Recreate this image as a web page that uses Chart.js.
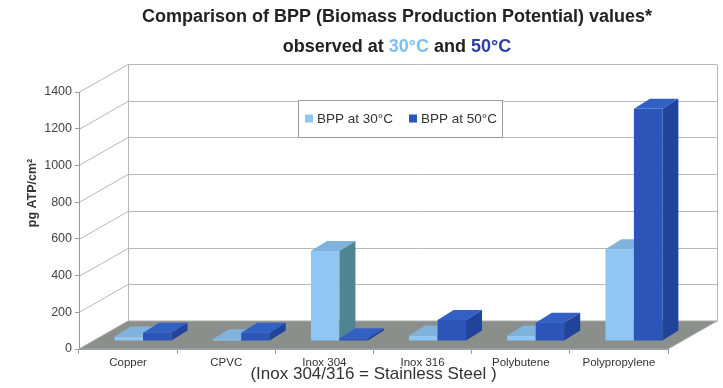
<!DOCTYPE html>
<html>
<head>
<meta charset="utf-8">
<script src="https://cdn.jsdelivr.net/npm/chart.js@4"></script>
<style>
  body { margin: 0; background: #fff; }
  #wrap { width: 723px; height: 388px; position: relative; }
</style>
</head>
<body>
<div id="wrap"><canvas id="myChart"></canvas></div>
<script>
// valores (pg ATP/cm2)
const materiales = ["Copper", "CPVC", "Inox 304", "Inox 316", "Polybutene", "Polypropylene"]
const bpp30 = [25, 10, 490, 30, 30, 500]
const bpp50 = [45, 45, 15, 115, 100, 1265]
const serieLabels = ["BPP at 30°C", "BPP at 50°C"]
const yTicks = [0, 200, 400, 600, 800, 1000, 1200, 1400]

const titulo1 = "Comparison of BPP (Biomass Production Potential) values*"
const titulo2 = [["observed at ", "#222"], ["30°C", "#7cc0f0"], [" and ", "#222"], ["50°C", "#2b3fa6"]]

// colores de las caras de las barras: frente, arriba, lado
const caras = [
    { front: "#8fc6f4", top: "#7fb2dc", side: "#4f8593" },
    { front: "#2b55b8", top: "#3260c4", side: "#20439c" }
]

// profundidad del piso / pared y de las barras
const FD = { dx: 49, dy: -28 }
const BD = { dx: 16, dy: -10 }
const BS = { dx: 15, dy: -8 }
const FONT = "'Liberation Sans', Arial, sans-serif"

const plugin3d = {
    id: "falso3d",
    beforeDraw (chart) {
        const ctx = chart.ctx
        const a = chart.chartArea
        const y = chart.scales.y
        ctx.save()
        ctx.fillStyle = "#fff"
        ctx.fillRect(0, 0, chart.width, chart.height)
        ctx.strokeStyle = "#b8b8b8"
        ctx.lineWidth = 1
        // lineas de la pared de atras y diagonales de la pared izquierda
        y.ticks.forEach((t) => {
            const py = Math.round(y.getPixelForValue(t.value)) + 0.5
            if (t.value === 0) return
            ctx.beginPath()
            ctx.moveTo(a.left, py)
            ctx.lineTo(a.left + FD.dx, py + FD.dy)
            ctx.lineTo(a.right + FD.dx, py + FD.dy)
            ctx.stroke()
        })
        const yTop = Math.round(y.getPixelForValue(1400)) + 0.5 + FD.dy
        const yBot = Math.round(y.getPixelForValue(0)) + 0.5 + FD.dy
        ctx.beginPath()
        ctx.moveTo(a.left + FD.dx + 0.5, yTop)
        ctx.lineTo(a.left + FD.dx + 0.5, yBot)
        ctx.moveTo(a.right + FD.dx + 0.5, yTop)
        ctx.lineTo(a.right + FD.dx + 0.5, yBot)
        ctx.stroke()
        // piso gris
        const b = y.getPixelForValue(0)
        ctx.fillStyle = "#8b8f8c"
        ctx.beginPath()
        ctx.moveTo(a.left, b)
        ctx.lineTo(a.right, b)
        ctx.lineTo(a.right + FD.dx, b + FD.dy)
        ctx.lineTo(a.left + FD.dx, b + FD.dy)
        ctx.closePath()
        ctx.fill()
        ctx.strokeStyle = "#a9aba9"
        ctx.stroke()
        ctx.restore()
    },
    beforeDatasetsDraw (chart) {
        const ctx = chart.ctx
        const metas = chart.data.datasets.map((d, i) => chart.getDatasetMeta(i))
        ctx.save()
        materiales.forEach((m, j) => {
            metas.forEach((meta, i) => {
                const bar = meta.data[j]
                const p = bar.getProps(["x", "y", "base", "width"], true)
                const L = p.x - p.width / 2 + BS.dx
                const R = p.x + p.width / 2 + BS.dx
                const T = p.y + BS.dy
                const B = p.base + BS.dy
                const c = caras[i]
                ctx.fillStyle = c.front
                ctx.fillRect(L, T, R - L, B - T)
                ctx.fillStyle = c.top
                ctx.beginPath()
                ctx.moveTo(L, T)
                ctx.lineTo(R, T)
                ctx.lineTo(R + BD.dx, T + BD.dy)
                ctx.lineTo(L + BD.dx, T + BD.dy)
                ctx.closePath()
                ctx.fill()
                ctx.fillStyle = c.side
                ctx.beginPath()
                ctx.moveTo(R, T)
                ctx.lineTo(R + BD.dx, T + BD.dy)
                ctx.lineTo(R + BD.dx, B + BD.dy)
                ctx.lineTo(R, B)
                ctx.closePath()
                ctx.fill()
            })
        })
        ctx.restore()
        return false
    },
    afterDraw (chart) {
        const ctx = chart.ctx
        const a = chart.chartArea
        ctx.save()
        // titulo en dos lineas, con colores
        ctx.textBaseline = "middle"
        ctx.fillStyle = "#222"
        ctx.font = "bold 18px " + FONT
        const cx = 397
        ctx.textAlign = "center"
        ctx.fillText(titulo1, cx, 17)
        ctx.textAlign = "left"
        const w2 = titulo2.reduce((s, t) => s + ctx.measureText(t[0]).width, 0)
        let x = cx - w2 / 2
        titulo2.forEach((t) => {
            ctx.fillStyle = t[1]
            ctx.fillText(t[0], x, 47)
            x += ctx.measureText(t[0]).width
        })
        // titulo del eje y
        ctx.save()
        ctx.translate(33, 193)
        ctx.rotate(-Math.PI / 2)
        ctx.textAlign = "center"
        ctx.fillStyle = "#333"
        ctx.font = "bold 12.5px " + FONT
        ctx.fillText("pg ATP/cm²", 0, 0)
        ctx.restore()
        // leyenda
        const lx = a.left + 219, ly = a.top + 8, lw = 204, lh = 37
        ctx.fillStyle = "#fff"
        ctx.fillRect(lx, ly, lw, lh)
        ctx.strokeStyle = "#9a9a9a"
        ctx.strokeRect(lx + 0.5, ly + 0.5, lw, lh)
        ctx.font = "13.5px " + FONT
        ctx.textAlign = "left"
        let ix = lx + 7
        chart.data.datasets.forEach((d, i) => {
            ctx.fillStyle = caras[i].front
            ctx.fillRect(ix, ly + lh / 2 - 4, 8, 8)
            ctx.fillStyle = "#333"
            ctx.fillText(d.label, ix + 12, ly + lh / 2 + 1)
            ix += 104
        })
        ctx.restore()
    }
}

function renderGrafica () {
    const data = {
        labels: materiales,
        datasets: [
            { label: serieLabels[0], data: bpp30, backgroundColor: caras[0].front },
            { label: serieLabels[1], data: bpp50, backgroundColor: caras[1].front }
        ]
    }
    const config = {
        type: "bar",
        data,
        plugins: [plugin3d],
        options: {
            responsive: true,
            maintainAspectRatio: false,
            animation: false,
            layout: { padding: { top: 92, right: 55, left: 0, bottom: 0 } },
            datasets: { bar: { categoryPercentage: 0.58, barPercentage: 1.0 } },
            plugins: { legend: { display: false }, title: { display: false }, tooltip: { enabled: false } },
            scales: {
                x: {
                    afterFit: (s) => { s.height = 39 },
                    grid: { drawOnChartArea: false, drawTicks: true, tickLength: 5, color: "#9a9a9a" },
                    border: { color: "#a0a0a0" },
                    ticks: { font: { family: FONT, size: 11.5 }, color: "#333", padding: 2, maxRotation: 0 },
                    title: {
                        display: true,
                        text: "(Inox 304/316 = Stainless Steel )",
                        font: { family: FONT, size: 17 },
                        color: "#333",
                        padding: { top: 0, bottom: 3 }
                    }
                },
                y: {
                    min: 0,
                    max: 1400,
                    afterFit: (s) => { s.width = 79 },
                    afterBuildTicks: (s) => { s.ticks = yTicks.map((v) => ({ value: v })) },
                    grid: { drawOnChartArea: false, drawTicks: true, tickLength: 4, color: "#9a9a9a" },
                    border: { color: "#9a9a9a" },
                    ticks: { font: { family: FONT, size: 12.5 }, color: "#444", padding: 3, callback: (v) => String(v) }
                }
            }
        }
    }
    const myChart = document.getElementById("myChart")
    new Chart(myChart, config)
}
renderGrafica()
</script>
</body>
</html>
